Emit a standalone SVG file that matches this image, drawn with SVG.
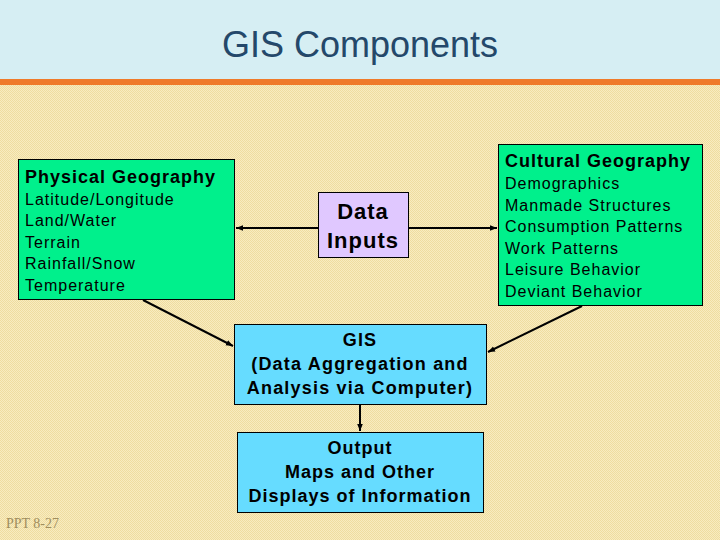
<svg xmlns="http://www.w3.org/2000/svg" width="720" height="540" viewBox="0 0 720 540">
<defs>
<pattern id="bg" width="2" height="2" patternUnits="userSpaceOnUse">
<rect width="2" height="2" fill="#f8ecc0"/>
<rect width="1" height="1" fill="#efdca0"/>
<rect x="1" y="1" width="1" height="1" fill="#efdca0"/>
</pattern>
<marker id="ah" viewBox="0 0 10 10" refX="10" refY="5" markerWidth="7" markerHeight="7" orient="auto-start-reverse" markerUnits="userSpaceOnUse">
<path d="M0,1 L10,5 L0,9 z" fill="#000"/>
</marker>
<style>
.t{font-family:"Liberation Sans",Arial,sans-serif;fill:#000;letter-spacing:1px}
.h{font-size:18px;font-weight:bold}
.i{font-size:16px}
.c{text-anchor:middle;font-weight:bold;font-size:18px}
.box{stroke:#000;stroke-width:1}
.green{fill:#00f08c}
.blue{fill:#66dcff}
.ln{stroke:#000;stroke-width:2;fill:none}
</style>
</defs>
<rect width="720" height="540" fill="url(#bg)"/>
<rect width="720" height="79" fill="#d6eef3"/>
<rect y="79" width="720" height="6" fill="#ef7a2a"/>
<text x="360" y="57" text-anchor="middle" font-family="Liberation Sans,Arial,sans-serif" font-size="36" fill="#24486a">GIS Components</text>

<g id="connectors">
<line class="ln" x1="318" y1="228" x2="236" y2="228" marker-end="url(#ah)"/>
<line class="ln" x1="408" y1="228" x2="497" y2="228" marker-end="url(#ah)"/>
<line class="ln" x1="143" y1="300" x2="233" y2="346" marker-end="url(#ah)"/>
<line class="ln" x1="582" y1="306" x2="488" y2="352" marker-end="url(#ah)"/>
<line class="ln" x1="360" y1="404" x2="360" y2="431" marker-end="url(#ah)"/>
</g>

<g id="physical">
<rect class="box green" x="18.5" y="159.5" width="216" height="140"/>
<text class="t h" x="25" y="183">Physical Geography</text>
<text class="t i" x="25" y="205">Latitude/Longitude</text>
<text class="t i" x="25" y="226">Land/Water</text>
<text class="t i" x="25" y="248">Terrain</text>
<text class="t i" x="25" y="269">Rainfall/Snow</text>
<text class="t i" x="25" y="291">Temperature</text>
</g>

<g id="cultural">
<rect class="box green" x="498.5" y="144.5" width="204" height="161"/>
<text class="t h" x="505" y="167">Cultural Geography</text>
<text class="t i" x="505" y="189">Demographics</text>
<text class="t i" x="505" y="211">Manmade Structures</text>
<text class="t i" x="505" y="232">Consumption Patterns</text>
<text class="t i" x="505" y="254">Work Patterns</text>
<text class="t i" x="505" y="275">Leisure Behavior</text>
<text class="t i" x="505" y="297">Deviant Behavior</text>
</g>

<g id="data-inputs">
<rect class="box" fill="#e0c8ff" x="318.5" y="192.5" width="90" height="65"/>
<text class="t" x="363" y="219" text-anchor="middle" font-size="22" font-weight="bold">Data</text>
<text class="t" x="363" y="248" text-anchor="middle" font-size="22" font-weight="bold">Inputs</text>
</g>

<g id="gis">
<rect class="box blue" x="234.5" y="324.5" width="252" height="80"/>
<text class="t c" x="360" y="346" style="letter-spacing:1.2px">GIS</text>
<text class="t c" x="360" y="370" style="letter-spacing:1.2px">(Data Aggregation and</text>
<text class="t c" x="360" y="394" style="letter-spacing:1.2px">Analysis via Computer)</text>
</g>

<g id="output">
<rect class="box blue" x="237.5" y="432.5" width="246" height="80"/>
<text class="t c" x="360" y="454">Output</text>
<text class="t c" x="360" y="478">Maps and Other</text>
<text class="t c" x="360" y="502">Displays of Information</text>
</g>

<text x="6" y="528" font-family="Liberation Serif,serif" font-size="14" fill="#a08e5e">PPT 8-27</text>
</svg>
